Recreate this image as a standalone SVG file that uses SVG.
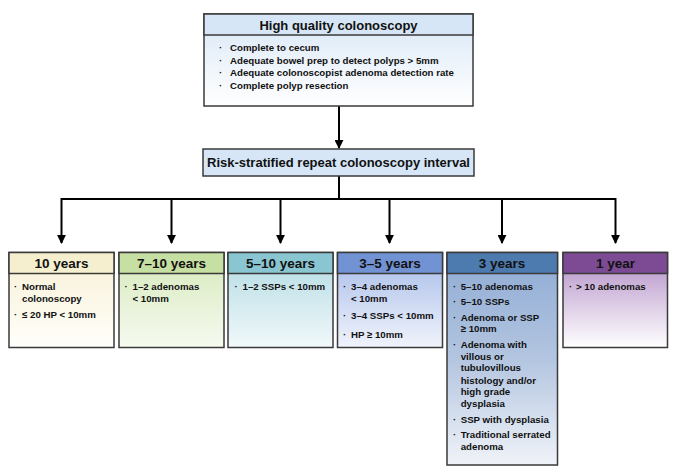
<svg xmlns="http://www.w3.org/2000/svg" width="689" height="470" viewBox="0 0 689 470">
<style>
text{font-family:"Liberation Sans",Arial,Helvetica,sans-serif;font-weight:bold;fill:#111}
.t{font-size:13px;text-anchor:middle}
.h{font-size:13.5px;text-anchor:middle}
.b{font-size:9.7px}
.box{stroke:#3a3a3a;stroke-width:1.5}
.ln{stroke:#000;stroke-width:2;fill:none}
</style>
<defs>
<marker id="ah" viewBox="0 0 10 10" refX="9" refY="5" markerWidth="4.5" markerHeight="4.5" orient="auto" markerUnits="strokeWidth">
<path d="M0,0 L10,5 L0,10 z" fill="#000"/>
</marker>
<linearGradient id="gTop" x1="0" y1="0" x2="0" y2="1"><stop offset="0" stop-color="#d9e7f6"/><stop offset="1" stop-color="#ffffff"/></linearGradient>
<linearGradient id="g1" x1="0" y1="0" x2="0" y2="1"><stop offset="0" stop-color="#f8f1d6"/><stop offset="1" stop-color="#fffefa"/></linearGradient>
<linearGradient id="g2" x1="0" y1="0" x2="0" y2="1"><stop offset="0" stop-color="#d6e9bb"/><stop offset="1" stop-color="#f6faf0"/></linearGradient>
<linearGradient id="g3" x1="0" y1="0" x2="0" y2="1"><stop offset="0" stop-color="#b2dbe3"/><stop offset="1" stop-color="#f1f8fa"/></linearGradient>
<linearGradient id="g4" x1="0" y1="0" x2="0" y2="1"><stop offset="0" stop-color="#a7bce9"/><stop offset="1" stop-color="#f0f3fb"/></linearGradient>
<linearGradient id="g5" x1="0" y1="0" x2="0" y2="1"><stop offset="0" stop-color="#8eabd4"/><stop offset="0.5" stop-color="#b3c5e0"/><stop offset="1" stop-color="#f0f3f8"/></linearGradient>
<linearGradient id="g6" x1="0" y1="0" x2="0" y2="1"><stop offset="0" stop-color="#b28dc6"/><stop offset="1" stop-color="#ffffff"/></linearGradient>
</defs>

<g id="connectors">
<line class="ln" x1="339" y1="106" x2="339" y2="148" marker-end="url(#ah)"/>
<line class="ln" x1="339" y1="176" x2="339" y2="199"/>
<line class="ln" x1="61.5" y1="199" x2="615.5" y2="199"/>
<line class="ln" x1="61.5" y1="198" x2="61.5" y2="243" marker-end="url(#ah)"/>
<line class="ln" x1="171.5" y1="199" x2="171.5" y2="243" marker-end="url(#ah)"/>
<line class="ln" x1="280.5" y1="199" x2="280.5" y2="243" marker-end="url(#ah)"/>
<line class="ln" x1="389.5" y1="199" x2="389.5" y2="243" marker-end="url(#ah)"/>
<line class="ln" x1="502" y1="199" x2="502" y2="243" marker-end="url(#ah)"/>
<line class="ln" x1="615.5" y1="198" x2="615.5" y2="243" marker-end="url(#ah)"/>
</g>

<g id="top">
<rect class="box" x="204" y="14" width="269" height="92" fill="url(#gTop)"/>
<rect class="box" x="204" y="14" width="269" height="21" fill="#d6e6f6"/>
<text class="t" x="338.5" y="29.5">High quality colonoscopy</text>
<text class="b" x="219" y="51">·</text><text class="b" x="230" y="51">Complete to cecum</text>
<text class="b" x="219" y="63.5">·</text><text class="b" x="230" y="63.5">Adequate bowel prep to detect polyps &gt; 5mm</text>
<text class="b" x="219" y="76">·</text><text class="b" x="230" y="76">Adequate colonoscopist adenoma detection rate</text>
<text class="b" x="219" y="88.5">·</text><text class="b" x="230" y="88.5">Complete polyp resection</text>
</g>

<g id="risk">
<rect class="box" x="203" y="149" width="271" height="27" fill="#d6e6f6"/>
<text class="t" x="338.5" y="167">Risk-stratified repeat colonoscopy interval</text>
</g>

<g id="y10">
<rect class="box" x="9" y="252.5" width="105" height="95" fill="url(#g1)"/>
<rect class="box" x="9" y="252.5" width="105" height="21" fill="#f6efcf"/>
<text class="h" x="61.5" y="268">10 years</text>
<text class="b" x="14" y="290">·</text><text class="b" x="22" y="290">Normal</text>
<text class="b" x="22" y="301.7">colonoscopy</text>
<text class="b" x="14" y="317.5">·</text><text class="b" x="22" y="317.5">≤ 20 HP &lt; 10mm</text>
</g>

<g id="y7-10">
<rect class="box" x="119" y="252.5" width="105" height="95" fill="url(#g2)"/>
<rect class="box" x="119" y="252.5" width="105" height="21" fill="#c6dfa2"/>
<text class="h" x="171.5" y="268">7–10 years</text>
<text class="b" x="124.5" y="290">·</text><text class="b" x="132.5" y="290">1–2 adenomas</text>
<text class="b" x="132.5" y="301.7">&lt; 10mm</text>
</g>

<g id="y5-10">
<rect class="box" x="228" y="252.5" width="105" height="95" fill="url(#g3)"/>
<rect class="box" x="228" y="252.5" width="105" height="21" fill="#8ac6d2"/>
<text class="h" x="280.5" y="268">5–10 years</text>
<text class="b" x="234.5" y="290">·</text><text class="b" x="242.5" y="290">1–2 SSPs &lt; 10mm</text>
</g>

<g id="y3-5">
<rect class="box" x="337.5" y="252.5" width="105" height="95" fill="url(#g4)"/>
<rect class="box" x="337.5" y="252.5" width="105" height="21" fill="#7193d3"/>
<text class="h" x="390" y="268">3–5 years</text>
<text class="b" x="343" y="290">·</text><text class="b" x="351" y="290">3–4 adenomas</text>
<text class="b" x="351" y="301.7">&lt; 10mm</text>
<text class="b" x="343" y="319">·</text><text class="b" x="351" y="319">3–4 SSPs &lt; 10mm</text>
<text class="b" x="343" y="338">·</text><text class="b" x="351" y="338">HP ≥ 10mm</text>
</g>

<g id="y3">
<rect class="box" x="447" y="252.5" width="110.5" height="212.5" fill="url(#g5)"/>
<rect class="box" x="447" y="252.5" width="110.5" height="21" fill="#4d7bb0"/>
<text class="h" x="502" y="268">3 years</text>
<text class="b" x="453" y="290">·</text><text class="b" x="460.7" y="290">5–10 adenomas</text>
<text class="b" x="453" y="305">·</text><text class="b" x="460.7" y="305">5–10 SSPs</text>
<text class="b" x="453" y="320.7">·</text><text class="b" x="460.7" y="320.7">Adenoma or SSP</text>
<text class="b" x="460.7" y="331.7">≥ 10mm</text>
<text class="b" x="453" y="347.7">·</text><text class="b" x="460.7" y="347.7">Adenoma with</text>
<text class="b" x="460.7" y="359.5">villous or</text>
<text class="b" x="460.7" y="371">tubulovillous</text>
<text class="b" x="460.7" y="383.5">histology and/or</text>
<text class="b" x="460.7" y="395">high grade</text>
<text class="b" x="460.7" y="406.5">dysplasia</text>
<text class="b" x="453" y="422.7">·</text><text class="b" x="460.7" y="422.7">SSP with dysplasia</text>
<text class="b" x="453" y="437.7">·</text><text class="b" x="460.7" y="437.7">Traditional serrated</text>
<text class="b" x="460.7" y="449.5">adenoma</text>
</g>

<g id="y1">
<rect class="box" x="563" y="252.5" width="104.5" height="95" fill="url(#g6)"/>
<rect class="box" x="563" y="252.5" width="104.5" height="21" fill="#7c4b94"/>
<text class="h" x="615.5" y="268">1 year</text>
<text class="b" x="569" y="290">·</text><text class="b" x="576" y="290">&gt; 10 adenomas</text>
</g>
</svg>
